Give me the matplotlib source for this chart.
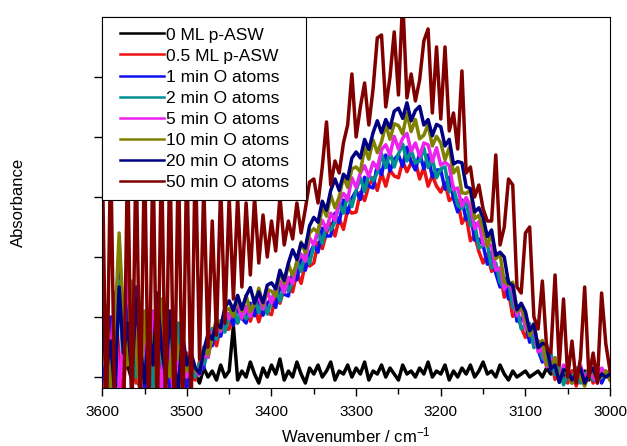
import numpy as np
import matplotlib.pyplot as plt
from matplotlib.lines import Line2D
from matplotlib.legend_handler import HandlerLine2D

plt.rcParams['font.family'] = ['Liberation Sans', 'DejaVu Sans']
plt.rcParams['mathtext.default'] = 'regular'

# wavenumber grid, 3600 -> 3000 cm-1, every 5 cm-1 (121 points)
wavenumber = np.arange(3600, 2999, -5)

# each row = 50 cm-1 (10 points), last row = 3000
ml_0 = [0.05, -0.10, 0.15, 0.00, -0.15, 0.10, 0.20, -0.05, 0.05, -0.20,
        0.10, 0.00, -0.10, 0.15, 0.05, -0.10, 0.00, 0.10, -0.05, 0.05,
        0.00, 0.10, 0.05, -0.10, 0.15, 0.00, 0.10, -0.05, 0.20, 0.00,
        0.10, 0.85, -0.05, 0.10, 0.00, 0.25, 0.05, -0.10, 0.15, 0.00,
        0.20, 0.05, 0.30, -0.05, 0.10, 0.00, 0.25, 0.05, -0.10, 0.15,
        0.05, 0.20, 0.00, 0.10, 0.25, -0.05, 0.10, 0.05, 0.20, 0.00,
        0.15, 0.05, 0.25, -0.05, 0.10, 0.05, 0.20, 0.00, 0.15, 0.05,
        -0.05, 0.20, 0.05, 0.10, 0.00, 0.15, 0.05, 0.25, 0.00, 0.10,
        0.05, 0.20, -0.05, 0.10, 0.00, 0.15, 0.05, 0.20, 0.00, 0.10,
        0.25, 0.05, 0.10, 0.00, 0.20, 0.05, -0.05, 0.10, 0.00, 0.05,
        0.10, 0.00, 0.05, 0.10, 0.00, 0.15, 0.05, 0.10, 0.00, 0.05,
        -0.05, 0.10, 0.00, 0.05, 0.10, -0.05, 0.05, 0.00, 0.10, 0.05,
        0.00]

ml_05 = [-0.2, 0.6, 0.1, 1.4, 0.3, -0.3, 0.9, 0.2, -0.1, 1.1,
         0.4, -0.2, 0.7, 0.0, 0.9, 0.2, 1.0, -0.3, 0.6, 0.1,
         0.4, 0.0, -0.05, 0.26, 0.47, 0.33, 0.69, 0.52, 0.84, 0.79,
         0.80, 1.08, 0.90, 1.10, 1.18, 0.93, 1.17, 0.92, 1.17, 1.07,
         1.04, 1.37, 1.23, 1.48, 1.61, 1.42, 1.74, 1.56, 1.89, 1.85,
         1.90, 2.24, 2.14, 2.40, 2.56, 2.35, 2.64, 2.46, 2.79, 2.73,
         2.75, 3.08, 2.94, 3.19, 3.32, 3.11, 3.40, 3.18, 3.45, 3.35,
         3.32, 3.60, 3.42, 3.57, 3.60, 3.30, 3.49, 3.18, 3.36, 3.18,
         3.08, 3.24, 2.94, 3.00, 2.94, 2.56, 2.69, 2.27, 2.36, 2.09,
         1.90, 2.05, 1.76, 1.81, 1.75, 1.33, 1.43, 1.01, 1.08, 0.83,
         0.66, 0.82, 0.52, 0.60, 0.56, 0.19, 0.31, -0.04, 0.13, -0.03,
         -0.10, 0.10, -0.15, 0.05, -0.05, 0.15, -0.10, 0.05, -0.05, 0.10,
         -0.05]

o_1min = [0.5, -0.3, 1.0, 0.2, 2.2, 0.8, 1.3, -0.2, 1.5, 0.3,
          -0.4, 0.9, 0.1, 1.2, -0.3, 0.6, -0.2, 0.8, 0.0, 0.5,
          -0.2, 0.3, 0.05, 0.10, 0.15, 0.60, 0.52, 0.90, 0.68, 0.93,
          1.05, 0.86, 1.18, 0.98, 0.90, 1.23, 1.02, 1.33, 1.03, 1.23,
          1.30, 1.16, 1.53, 1.38, 1.35, 1.75, 1.62, 2.00, 1.78, 2.05,
          2.20, 2.08, 2.48, 2.35, 2.35, 2.73, 2.57, 2.95, 2.73, 2.98,
          3.10, 2.96, 3.33, 3.18, 3.15, 3.53, 3.37, 3.70, 3.43, 3.63,
          3.70, 3.51, 3.83, 3.58, 3.45, 3.73, 3.47, 3.70, 3.33, 3.45,
          3.45, 3.13, 3.33, 2.98, 2.75, 2.95, 2.62, 2.75, 2.28, 2.30,
          2.20, 1.88, 2.08, 1.73, 1.50, 1.65, 1.30, 1.42, 0.93, 0.98,
          0.90, 0.58, 0.78, 0.45, 0.25, 0.45, 0.12, 0.32, -0.07, 0.07,
          0.10, -0.10, 0.15, -0.05, -0.12, 0.12, -0.05, 0.15, -0.10, 0.05,
          0.00]

o_2min = [0.2, 1.1, -0.3, 0.7, 1.6, 0.1, 0.6, 1.0, 0.0, 0.8,
          0.2, 0.5, -0.2, 1.0, 0.3, -0.1, 0.7, 0.2, 0.9, -0.1,
          0.3, 0.1, 0.00, 0.23, 0.21, 0.41, 0.81, 0.63, 0.94, 0.75,
          1.02, 1.18, 0.90, 1.13, 0.97, 1.05, 1.32, 1.07, 1.29, 1.05,
          1.27, 1.49, 1.26, 1.54, 1.43, 1.58, 1.93, 1.76, 2.06, 1.89,
          2.19, 2.42, 2.23, 2.53, 2.45, 2.58, 2.90, 2.73, 3.03, 2.84,
          3.11, 3.32, 3.09, 3.37, 3.27, 3.40, 3.72, 3.49, 3.74, 3.50,
          3.72, 3.88, 3.60, 3.78, 3.57, 3.60, 3.82, 3.49, 3.64, 3.32,
          3.47, 3.50, 3.09, 3.17, 2.86, 2.81, 2.95, 2.52, 2.57, 2.15,
          2.19, 2.22, 1.82, 1.90, 1.58, 1.48, 1.61, 1.16, 1.19, 0.80,
          0.87, 0.89, 0.49, 0.59, 0.31, 0.26, 0.40, 0.04, 0.17, -0.13,
          0.05, -0.05, 0.15, -0.10, 0.05, 0.10, -0.05, 0.15, 0.00, 0.05,
          0.00]

o_5min = [0.9, 0.0, 0.5, 1.2, -0.2, 0.6, 1.8, 0.3, 1.0, -0.3,
          0.7, 0.1, 1.1, 0.4, -0.2, 0.8, 0.3, -0.4, 0.5, 0.2,
          0.0, 0.2, 0.10, 0.04, 0.37, 0.33, 0.74, 0.87, 0.76, 1.12,
          0.97, 1.15, 1.22, 0.98, 1.17, 1.01, 1.28, 1.33, 1.13, 1.44,
          1.23, 1.47, 1.59, 1.41, 1.66, 1.56, 1.92, 2.05, 1.93, 2.32,
          2.20, 2.45, 2.61, 2.45, 2.73, 2.61, 2.94, 3.06, 2.95, 3.32,
          3.16, 3.40, 3.52, 3.34, 3.58, 3.47, 3.79, 3.87, 3.70, 4.01,
          3.80, 3.98, 4.06, 3.76, 3.90, 3.68, 3.90, 3.87, 3.59, 3.82,
          3.53, 3.58, 3.52, 3.12, 3.15, 2.85, 2.99, 2.85, 2.47, 2.59,
          2.20, 2.24, 2.18, 1.78, 1.82, 1.46, 1.58, 1.43, 1.02, 1.18,
          0.81, 0.85, 0.79, 0.42, 0.48, 0.17, 0.31, 0.25, -0.05, 0.20,
          0.10, -0.05, 0.05, 0.20, -0.05, 0.10, 0.00, -0.10, 0.15, 0.05,
          0.10]

o_10min = [0.3, 1.2, -0.2, 0.8, 2.4, 1.0, 0.2, 1.6, 0.5, -0.3,
           1.1, 0.2, 0.7, -0.2, 1.3, 0.4, 0.0, 0.9, 0.3, 0.6,
           0.1, 0.3, 0.10, 0.09, 0.50, 0.37, 0.64, 0.99, 0.80, 1.11,
           1.14, 1.01, 1.35, 1.10, 1.36, 1.09, 1.22, 1.48, 1.20, 1.46,
           1.43, 1.35, 1.75, 1.56, 1.88, 1.69, 1.91, 2.25, 2.07, 2.40,
           2.47, 2.41, 2.85, 2.68, 3.03, 2.82, 3.00, 3.34, 3.16, 3.47,
           3.50, 3.42, 3.82, 3.63, 3.95, 3.74, 3.92, 4.21, 3.96, 4.22,
           4.19, 4.05, 4.40, 4.09, 4.29, 3.97, 4.03, 4.21, 3.85, 4.01,
           3.90, 3.62, 3.82, 3.40, 3.49, 3.07, 3.06, 3.11, 2.64, 2.69,
           2.47, 2.18, 2.39, 1.97, 2.05, 1.58, 1.54, 1.58, 1.09, 1.17,
           0.97, 0.69, 0.89, 0.50, 0.61, 0.20, 0.18, 0.32, -0.06, 0.12,
           0.05, -0.10, 0.10, 0.00, -0.15, 0.05, 0.10, -0.05, 0.00, 0.10,
           -0.05]

o_20min = [1.0, 0.1, 0.6, -0.3, 1.5, 0.4, 0.9, 0.0, 1.3, 0.5,
           -0.1, 0.8, 0.2, 1.4, 0.5, 0.0, 1.1, 0.2, -0.2, 0.7,
           0.2, 0.4, 0.15, 0.06, 0.44, 0.72, 0.63, 0.90, 0.82, 1.16,
           1.27, 1.11, 1.36, 1.13, 1.35, 1.49, 1.23, 1.42, 1.24, 1.53,
           1.57, 1.47, 1.78, 1.61, 1.90, 2.12, 1.96, 2.23, 2.15, 2.52,
           2.66, 2.58, 2.93, 2.78, 3.11, 3.30, 3.11, 3.38, 3.30, 3.65,
           3.75, 3.65, 3.96, 3.79, 4.07, 4.27, 4.07, 4.29, 4.15, 4.43,
           4.48, 4.31, 4.57, 4.27, 4.44, 4.51, 4.20, 4.29, 4.02, 4.21,
           4.17, 3.85, 3.96, 3.55, 3.59, 3.57, 3.17, 3.14, 2.75, 2.82,
           2.66, 2.34, 2.45, 2.03, 2.08, 2.00, 1.57, 1.53, 1.12, 1.23,
           1.09, 0.77, 0.88, 0.49, 0.56, 0.54, 0.14, 0.20, -0.09, 0.12,
           0.10, -0.05, 0.05, 0.15, -0.10, 0.05, 0.15, -0.05, 0.05, 0.00,
           0.05]

o_50min = [3.8, -0.8, 3.8, -0.8, -0.6, -1.0, 3.8, -0.8, 3.8, -0.6,
           3.8, -0.8, 3.8, -0.8, 3.8, -0.6, 3.8, -0.8, 3.8, -0.8,
           3.8, -0.6, 3.8, 0.3, 3.2, 0.5, 2.6, 0.7, 3.2, 0.9,
           3.0, 1.3, 3.0, 1.5, 2.9, 1.7, 3.0, 1.9, 2.7, 2.0,
           2.6, 2.1, 3.0, 2.2, 2.6, 2.3, 2.9, 2.4, 2.8, 3.25,
           3.3, 2.9, 3.5, 4.25, 3.2, 3.6, 3.4, 3.9, 4.2, 5.05,
           4.0, 4.5, 4.9, 4.2, 4.8, 5.65, 5.7, 4.5, 5.0, 5.75,
           4.7, 6.3, 4.65, 5.05, 4.6, 4.95, 5.6, 5.8, 4.4, 5.5,
           4.3, 5.5, 4.1, 4.4, 3.8, 5.1, 3.4, 3.5, 3.0, 3.2,
           2.8, 2.6, 2.6, 3.7, 2.2, 2.5, 3.3, 3.2, 1.5, 1.4,
           2.4, 2.5, 1.0, 0.8, 1.6, 0.5, 0.4, 1.7, 0.2, 1.3,
           0.0, 0.6, -0.1, 0.3, 1.5, 0.0, 0.4, -0.1, 1.4, 0.55,
           0.1]

labels = ["0 ML p-ASW", "0.5 ML p-ASW", "1 min O atoms", "2 min O atoms",
          "5 min O atoms", "10 min O atoms", "20 min O atoms", "50 min O atoms"]
colors = ["black", "#ee1111", "#1010ee", "#009090", "#ee22ee",
          "#808000", "#000080", "#800000"]
series = [ml_0, ml_05, o_1min, o_2min, o_5min, o_10min, o_20min, o_50min]

fig = plt.figure(figsize=(6.27, 4.46), dpi=100)
ax = fig.add_axes([0.163, 0.130, 0.810, 0.832])

for y, lab, c in zip(series, labels, colors):
    ax.plot(wavenumber, y, color=c, lw=2.5, label=lab)

ax.set_xlim(3600, 3000)
ax.set_ylim(-0.183, 6.0)
ax.set_xticks(np.arange(3600, 2999, -100))
ax.set_xticks(np.arange(3550, 3000, -100), minor=True)
ax.set_yticks(np.arange(0, 6, 1))
ax.set_yticklabels([])
ax.tick_params(direction='out', top=False, right=False, labelsize=11,
               length=6, width=1, pad=6)
ax.tick_params(which='minor', direction='out', top=False, length=4, width=1)

ax.set_xlabel('Wavenumber / cm$^{-1}$', fontsize=12, labelpad=5)
ax.set_ylabel('Absorbance', fontsize=12)
ax.yaxis.set_label_coords(-0.15, 0.5)

# 图例：固定宽度，线段两侧留白
leg = ax.legend(loc='upper left', bbox_to_anchor=(0, 0, 0.4016, 1),
                mode='expand', borderaxespad=0,
                fancybox=False, edgecolor='black', framealpha=1,
                fontsize=12.5, handlelength=3.4, handletextpad=-0.3,
                labelspacing=0.34, borderpad=0.6,
                handler_map={Line2D: HandlerLine2D(numpoints=2, marker_pad=0.45)})
leg.get_frame().set_linewidth(0.8)
for h in leg.get_lines():
    h.set_linewidth(1.8)

fig.savefig('out.png', dpi=100)
